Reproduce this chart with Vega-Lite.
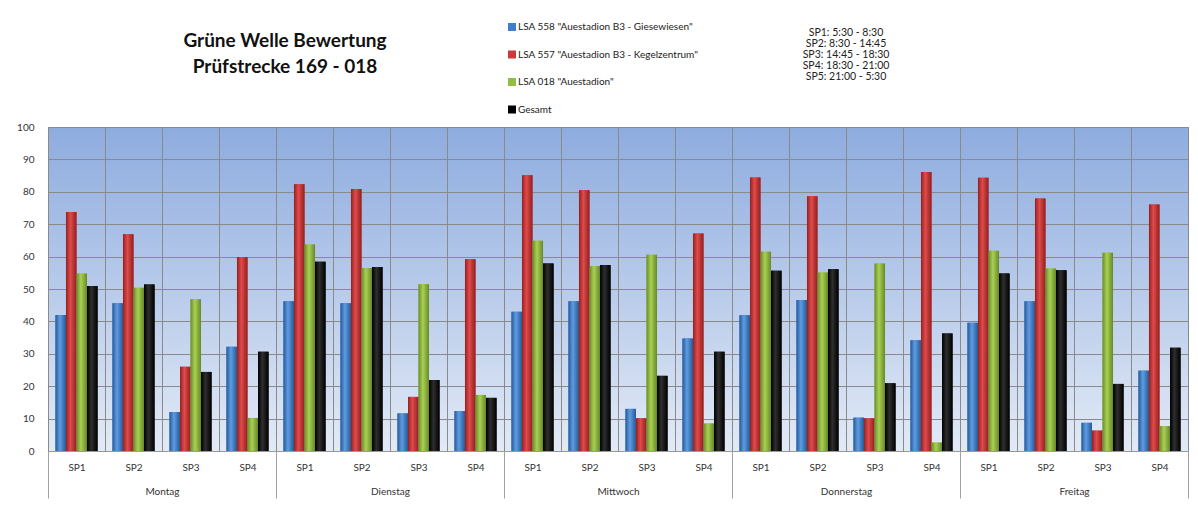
{
  "$schema": "https://vega.github.io/schema/vega-lite/v6.json",
  "width": 1140,
  "height": 324,
  "autosize": {"type": "none"},
  "padding": {"left": 48, "top": 127, "right": 10, "bottom": 69},
  "background": "white",
  "config": {
    "font": "Lato",
    "view": {
      "stroke": "#8a8a8a",
      "fill": {"gradient": "linear", "x1": 0, "y1": 0, "x2": 0, "y2": 1,
        "stops": [{"offset": 0, "color": "#8eacdf"}, {"offset": 1, "color": "#e2eaf6"}]}
    },
    "axisY": {
      "title": null, "values": [0, 10, 20, 30, 40, 50, 60, 70, 80, 90, 100], "labelOverlap": false,
      "labelFontSize": 10, "labelColor": "#333333", "labelPadding": 14,
      "ticks": false, "domain": false, "grid": true, "gridColor": "#8a8a8a", "gridWidth": 1
    }
  },
  "title": {
    "text": ["Grüne Welle Bewertung", "Prüfstrecke 169 - 018"],
    "frame": "group",
    "anchor": "start",
    "align": "center",
    "dx": 237,
    "offset": -74,
    "baseline": "bottom",
    "fontSize": 19,
    "fontWeight": "bold",
    "lineHeight": 26,
    "color": "#111111"
  },
  "data": {
    "values": [
      {"day": "Montag", "sp": "SP1", "series": "558", "value": 42},
      {"day": "Montag", "sp": "SP1", "series": "557", "value": 73.8},
      {"day": "Montag", "sp": "SP1", "series": "018", "value": 54.8},
      {"day": "Montag", "sp": "SP1", "series": "Gesamt", "value": 50.9},
      {"day": "Montag", "sp": "SP2", "series": "558", "value": 45.6},
      {"day": "Montag", "sp": "SP2", "series": "557", "value": 66.9},
      {"day": "Montag", "sp": "SP2", "series": "018", "value": 50.4},
      {"day": "Montag", "sp": "SP2", "series": "Gesamt", "value": 51.4},
      {"day": "Montag", "sp": "SP3", "series": "558", "value": 12},
      {"day": "Montag", "sp": "SP3", "series": "557", "value": 26},
      {"day": "Montag", "sp": "SP3", "series": "018", "value": 46.8},
      {"day": "Montag", "sp": "SP3", "series": "Gesamt", "value": 24.4},
      {"day": "Montag", "sp": "SP4", "series": "558", "value": 32.2},
      {"day": "Montag", "sp": "SP4", "series": "557", "value": 59.9},
      {"day": "Montag", "sp": "SP4", "series": "018", "value": 10.2},
      {"day": "Montag", "sp": "SP4", "series": "Gesamt", "value": 30.6},
      {"day": "Dienstag", "sp": "SP1", "series": "558", "value": 46.2},
      {"day": "Dienstag", "sp": "SP1", "series": "557", "value": 82.3},
      {"day": "Dienstag", "sp": "SP1", "series": "018", "value": 63.7},
      {"day": "Dienstag", "sp": "SP1", "series": "Gesamt", "value": 58.4},
      {"day": "Dienstag", "sp": "SP2", "series": "558", "value": 45.6},
      {"day": "Dienstag", "sp": "SP2", "series": "557", "value": 80.9},
      {"day": "Dienstag", "sp": "SP2", "series": "018", "value": 56.5},
      {"day": "Dienstag", "sp": "SP2", "series": "Gesamt", "value": 56.8},
      {"day": "Dienstag", "sp": "SP3", "series": "558", "value": 11.6},
      {"day": "Dienstag", "sp": "SP3", "series": "557", "value": 16.7},
      {"day": "Dienstag", "sp": "SP3", "series": "018", "value": 51.5},
      {"day": "Dienstag", "sp": "SP3", "series": "Gesamt", "value": 21.9},
      {"day": "Dienstag", "sp": "SP4", "series": "558", "value": 12.3},
      {"day": "Dienstag", "sp": "SP4", "series": "557", "value": 59.2},
      {"day": "Dienstag", "sp": "SP4", "series": "018", "value": 17.3},
      {"day": "Dienstag", "sp": "SP4", "series": "Gesamt", "value": 16.4},
      {"day": "Mittwoch", "sp": "SP1", "series": "558", "value": 43},
      {"day": "Mittwoch", "sp": "SP1", "series": "557", "value": 85.1},
      {"day": "Mittwoch", "sp": "SP1", "series": "018", "value": 64.9},
      {"day": "Mittwoch", "sp": "SP1", "series": "Gesamt", "value": 57.9},
      {"day": "Mittwoch", "sp": "SP2", "series": "558", "value": 46.2},
      {"day": "Mittwoch", "sp": "SP2", "series": "557", "value": 80.5},
      {"day": "Mittwoch", "sp": "SP2", "series": "018", "value": 57.1},
      {"day": "Mittwoch", "sp": "SP2", "series": "Gesamt", "value": 57.4},
      {"day": "Mittwoch", "sp": "SP3", "series": "558", "value": 13},
      {"day": "Mittwoch", "sp": "SP3", "series": "557", "value": 10.1},
      {"day": "Mittwoch", "sp": "SP3", "series": "018", "value": 60.6},
      {"day": "Mittwoch", "sp": "SP3", "series": "Gesamt", "value": 23.2},
      {"day": "Mittwoch", "sp": "SP4", "series": "558", "value": 34.7},
      {"day": "Mittwoch", "sp": "SP4", "series": "557", "value": 67.1},
      {"day": "Mittwoch", "sp": "SP4", "series": "018", "value": 8.5},
      {"day": "Mittwoch", "sp": "SP4", "series": "Gesamt", "value": 30.6},
      {"day": "Donnerstag", "sp": "SP1", "series": "558", "value": 41.9},
      {"day": "Donnerstag", "sp": "SP1", "series": "557", "value": 84.4},
      {"day": "Donnerstag", "sp": "SP1", "series": "018", "value": 61.5},
      {"day": "Donnerstag", "sp": "SP1", "series": "Gesamt", "value": 55.6},
      {"day": "Donnerstag", "sp": "SP2", "series": "558", "value": 46.6},
      {"day": "Donnerstag", "sp": "SP2", "series": "557", "value": 78.6},
      {"day": "Donnerstag", "sp": "SP2", "series": "018", "value": 55.1},
      {"day": "Donnerstag", "sp": "SP2", "series": "Gesamt", "value": 56.1},
      {"day": "Donnerstag", "sp": "SP3", "series": "558", "value": 10.3},
      {"day": "Donnerstag", "sp": "SP3", "series": "557", "value": 10.1},
      {"day": "Donnerstag", "sp": "SP3", "series": "018", "value": 57.9},
      {"day": "Donnerstag", "sp": "SP3", "series": "Gesamt", "value": 20.9},
      {"day": "Donnerstag", "sp": "SP4", "series": "558", "value": 34.2},
      {"day": "Donnerstag", "sp": "SP4", "series": "557", "value": 86.1},
      {"day": "Donnerstag", "sp": "SP4", "series": "018", "value": 2.6},
      {"day": "Donnerstag", "sp": "SP4", "series": "Gesamt", "value": 36.3},
      {"day": "Freitag", "sp": "SP1", "series": "558", "value": 39.6},
      {"day": "Freitag", "sp": "SP1", "series": "557", "value": 84.3},
      {"day": "Freitag", "sp": "SP1", "series": "018", "value": 61.8},
      {"day": "Freitag", "sp": "SP1", "series": "Gesamt", "value": 54.8},
      {"day": "Freitag", "sp": "SP2", "series": "558", "value": 46.2},
      {"day": "Freitag", "sp": "SP2", "series": "557", "value": 77.9},
      {"day": "Freitag", "sp": "SP2", "series": "018", "value": 56.3},
      {"day": "Freitag", "sp": "SP2", "series": "Gesamt", "value": 55.8},
      {"day": "Freitag", "sp": "SP3", "series": "558", "value": 8.7},
      {"day": "Freitag", "sp": "SP3", "series": "557", "value": 6.3},
      {"day": "Freitag", "sp": "SP3", "series": "018", "value": 61.2},
      {"day": "Freitag", "sp": "SP3", "series": "Gesamt", "value": 20.7},
      {"day": "Freitag", "sp": "SP4", "series": "558", "value": 24.8},
      {"day": "Freitag", "sp": "SP4", "series": "557", "value": 76.1},
      {"day": "Freitag", "sp": "SP4", "series": "018", "value": 7.7},
      {"day": "Freitag", "sp": "SP4", "series": "Gesamt", "value": 31.9}
    ]
  },
  "transform": [{"calculate": "datum.day + '|' + datum.sp", "as": "key"}],
  "layer": [
    {
      "encoding": {
        "x": {
          "field": "key", "type": "nominal", "sort": null,
          "scale": {"paddingInner": 0, "paddingOuter": 0},
          "axis": {
            "title": null, "orient": "bottom", "labelExpr": "split(datum.value, '|')[1]",
            "labelAngle": 0, "labelFontSize": 10, "labelColor": "#333333", "labelPadding": 11,
            "ticks": false, "tickBand": "extent", "grid": true, "gridColor": "#8a8a8a", "gridWidth": 1,
            "domain": true, "domainColor": "#9a9a9a"
          }
        },
        "xOffset": {
          "field": "series", "type": "nominal",
          "scale": {"domain": ["558", "557", "018", "Gesamt"], "paddingInner": 0, "paddingOuter": 0.71}
        },
        "y": {
          "field": "value", "type": "quantitative",
          "scale": {"domain": [0, 100], "nice": false}
        }
      },
      "layer": [
        {
          "mark": {"type": "bar"},
          "encoding": {
            "fill": {
              "field": "series", "type": "nominal",
              "scale": {"domain": ["558", "557", "018", "Gesamt"], "range": ["#3f7fcc", "#c93a3a", "#93bd45", "#000000"]},
              "legend": {
                "orient": "none", "legendX": 459, "legendY": -105, "title": null, "padding": 0,
                "symbolType": "square", "symbolSize": 64, "symbolStrokeWidth": 0,
                "labelFontSize": 10, "labelColor": "#222222", "labelOffset": 1, "labelLimit": 400,
                "rowPadding": 17.5,
                "labelExpr": "datum.value == '558' ? 'LSA 558 \"Auestadion B3 - Giesewiesen\"' : datum.value == '557' ? 'LSA 557 \"Auestadion B3 - Kegelzentrum\"' : datum.value == '018' ? 'LSA 018 \"Auestadion\"' : 'Gesamt'"
              }
            }
          }
        },
        {
          "mark": {"type": "bar"},
          "encoding": {
            "fill": {
              "condition": [
                {"test": "datum.series === '558'", "value": {"gradient": "linear", "x1": 0, "y1": 0, "x2": 1, "y2": 0,
                  "stops": [{"offset": 0, "color": "#27599a"}, {"offset": 0.42, "color": "#5d9de3"}, {"offset": 1, "color": "#285893"}]}},
                {"test": "datum.series === '557'", "value": {"gradient": "linear", "x1": 0, "y1": 0, "x2": 1, "y2": 0,
                  "stops": [{"offset": 0, "color": "#962020"}, {"offset": 0.42, "color": "#e04a4a"}, {"offset": 1, "color": "#912020"}]}},
                {"test": "datum.series === '018'", "value": {"gradient": "linear", "x1": 0, "y1": 0, "x2": 1, "y2": 0,
                  "stops": [{"offset": 0, "color": "#6a8c2c"}, {"offset": 0.42, "color": "#a9d152"}, {"offset": 1, "color": "#67882a"}]}}
              ],
              "value": {"gradient": "linear", "x1": 0, "y1": 0, "x2": 1, "y2": 0,
                "stops": [{"offset": 0, "color": "#000000"}, {"offset": 0.42, "color": "#2e2e2e"}, {"offset": 1, "color": "#000000"}]}
            }
          }
        }
      ]
    },
    {
      "layer": [
        {
          "mark": {"type": "rule", "opacity": 0},
          "encoding": {
            "x": {
              "field": "day", "type": "nominal",
              "scale": {"type": "band", "domain": ["Montag", "Dienstag", "Mittwoch", "Donnerstag", "Freitag"], "paddingInner": 0, "paddingOuter": 0},
              "axis": {
                "title": null, "orient": "bottom", "offset": 0, "domain": false, "grid": false,
                "ticks": true, "tickBand": "extent", "tickSize": 47, "tickColor": "#a0a0a0", "tickWidth": 1,
                "labelAngle": 0, "labelFontSize": 10, "labelColor": "#333333", "labelPadding": -12
              }
            }
          }
        },
        {
          "data": {"values": [{"lines": ["SP1: 5:30 - 8:30", "SP2: 8:30 - 14:45", "SP3: 14:45 - 18:30", "SP4: 18:30 - 21:00", "SP5: 21:00 - 5:30"]}]},
          "mark": {"type": "text", "fontSize": 10.5, "lineHeight": 11, "baseline": "middle", "align": "center", "color": "#222222"},
          "encoding": {
            "x": {"datum": "Donnerstag", "type": "nominal"},
            "y": {"datum": 129, "type": "quantitative"},
            "text": {"field": "lines", "type": "nominal"}
          }
        }
      ]
    }
  ],
  "resolve": {"scale": {"x": "independent"}, "axis": {"x": "independent"}}
}
